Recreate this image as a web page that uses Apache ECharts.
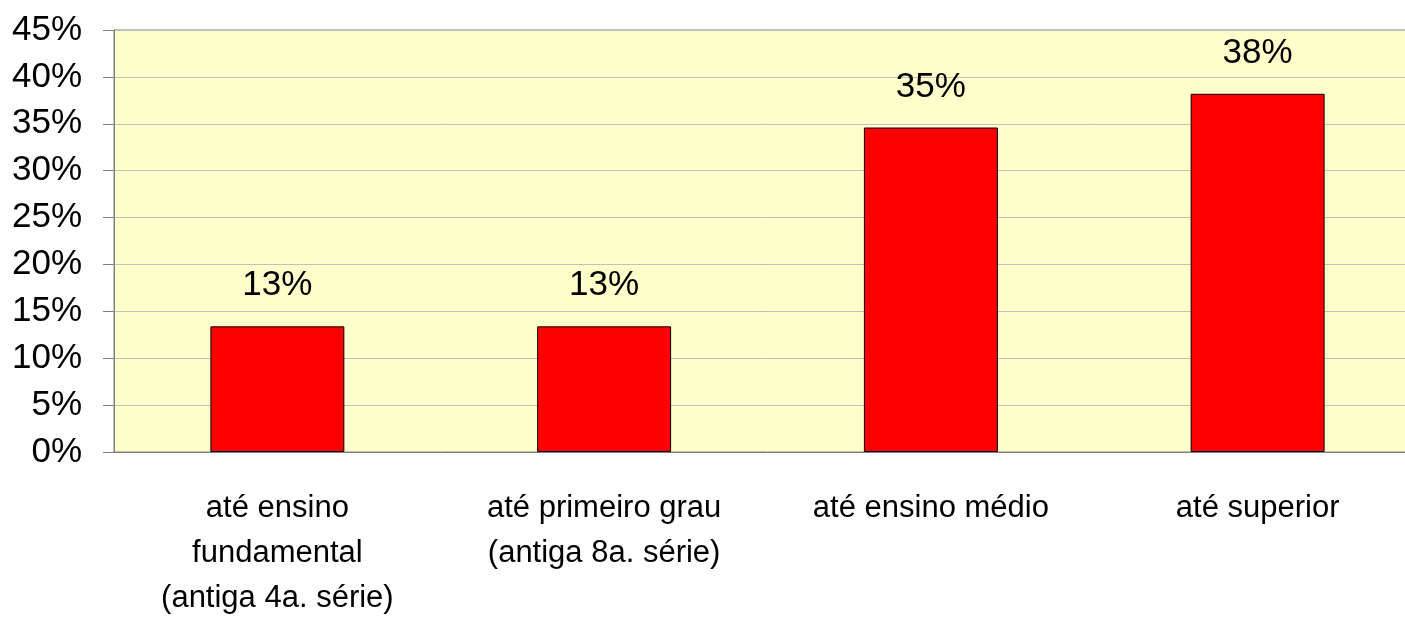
<!DOCTYPE html>
<html>
<head>
<meta charset="utf-8">
<script src="https://cdn.jsdelivr.net/npm/echarts@6/dist/echarts.min.js"></script>
<style>
  html, body { margin: 0; padding: 0; background: #fff; overflow: hidden; }
  #chart { width: 1421px; height: 622px; }
</style>
</head>
<body>
<div id="chart"></div>
<script>
// categorias e valores (%)
const categories = [
  'até ensino\nfundamental\n(antiga 4a. série)',
  'até primeiro grau\n(antiga 8a. série)',
  'até ensino médio',
  'até superior'
]
const values = [13.4, 13.4, 34.6, 38.2]
const yTicks = [0, 5, 10, 15, 20, 25, 30, 35, 40, 45]

// o gráfico original passa um pouco da borda direita
const chart = echarts.init(document.getElementById('chart'))
chart.setOption({
  animation: false,
  grid: {
    left: 114,
    right: 0,
    top: 30,
    bottom: 170,
    show: true,
    backgroundColor: '#FFFFCC',
    borderColor: '#808080',
    borderWidth: 1
  },
  xAxis: {
    type: 'category',
    data: categories,
    axisLine: { lineStyle: { color: '#808080', width: 1 } },
    axisTick: { length: 11, lineStyle: { color: '#808080' } },
    axisLabel: {
      color: '#000',
      fontFamily: '"Liberation Sans Narrow", "Arial Narrow", "Liberation Sans", Arial, sans-serif',
      fontSize: 31,
      lineHeight: 45,
      margin: 34,
      interval: 0
    }
  },
  yAxis: {
    type: 'value',
    min: yTicks[0],
    max: yTicks[yTicks.length - 1],
    interval: 5,
    axisLine: { show: true, lineStyle: { color: '#808080', width: 1 } },
    axisTick: { show: true, length: 11, lineStyle: { color: '#808080' } },
    splitLine: { lineStyle: { color: '#C0C0C0', width: 1 } },
    axisLabel: {
      color: '#000',
      fontFamily: '"Liberation Sans", Arial, sans-serif',
      fontSize: 35,
      margin: 32,
      formatter: '{value}%'
    }
  },
  series: [{
    type: 'bar',
    data: values,
    barWidth: '41%',
    itemStyle: { color: '#FF0000', borderColor: '#000', borderWidth: 1 },
    label: {
      show: true,
      position: 'top',
      distance: 23,
      color: '#000',
      fontFamily: '"Liberation Sans", Arial, sans-serif',
      fontSize: 35,
      formatter: p => Math.round(p.value) + '%'
    }
  }]
})
</script>
</body>
</html>
